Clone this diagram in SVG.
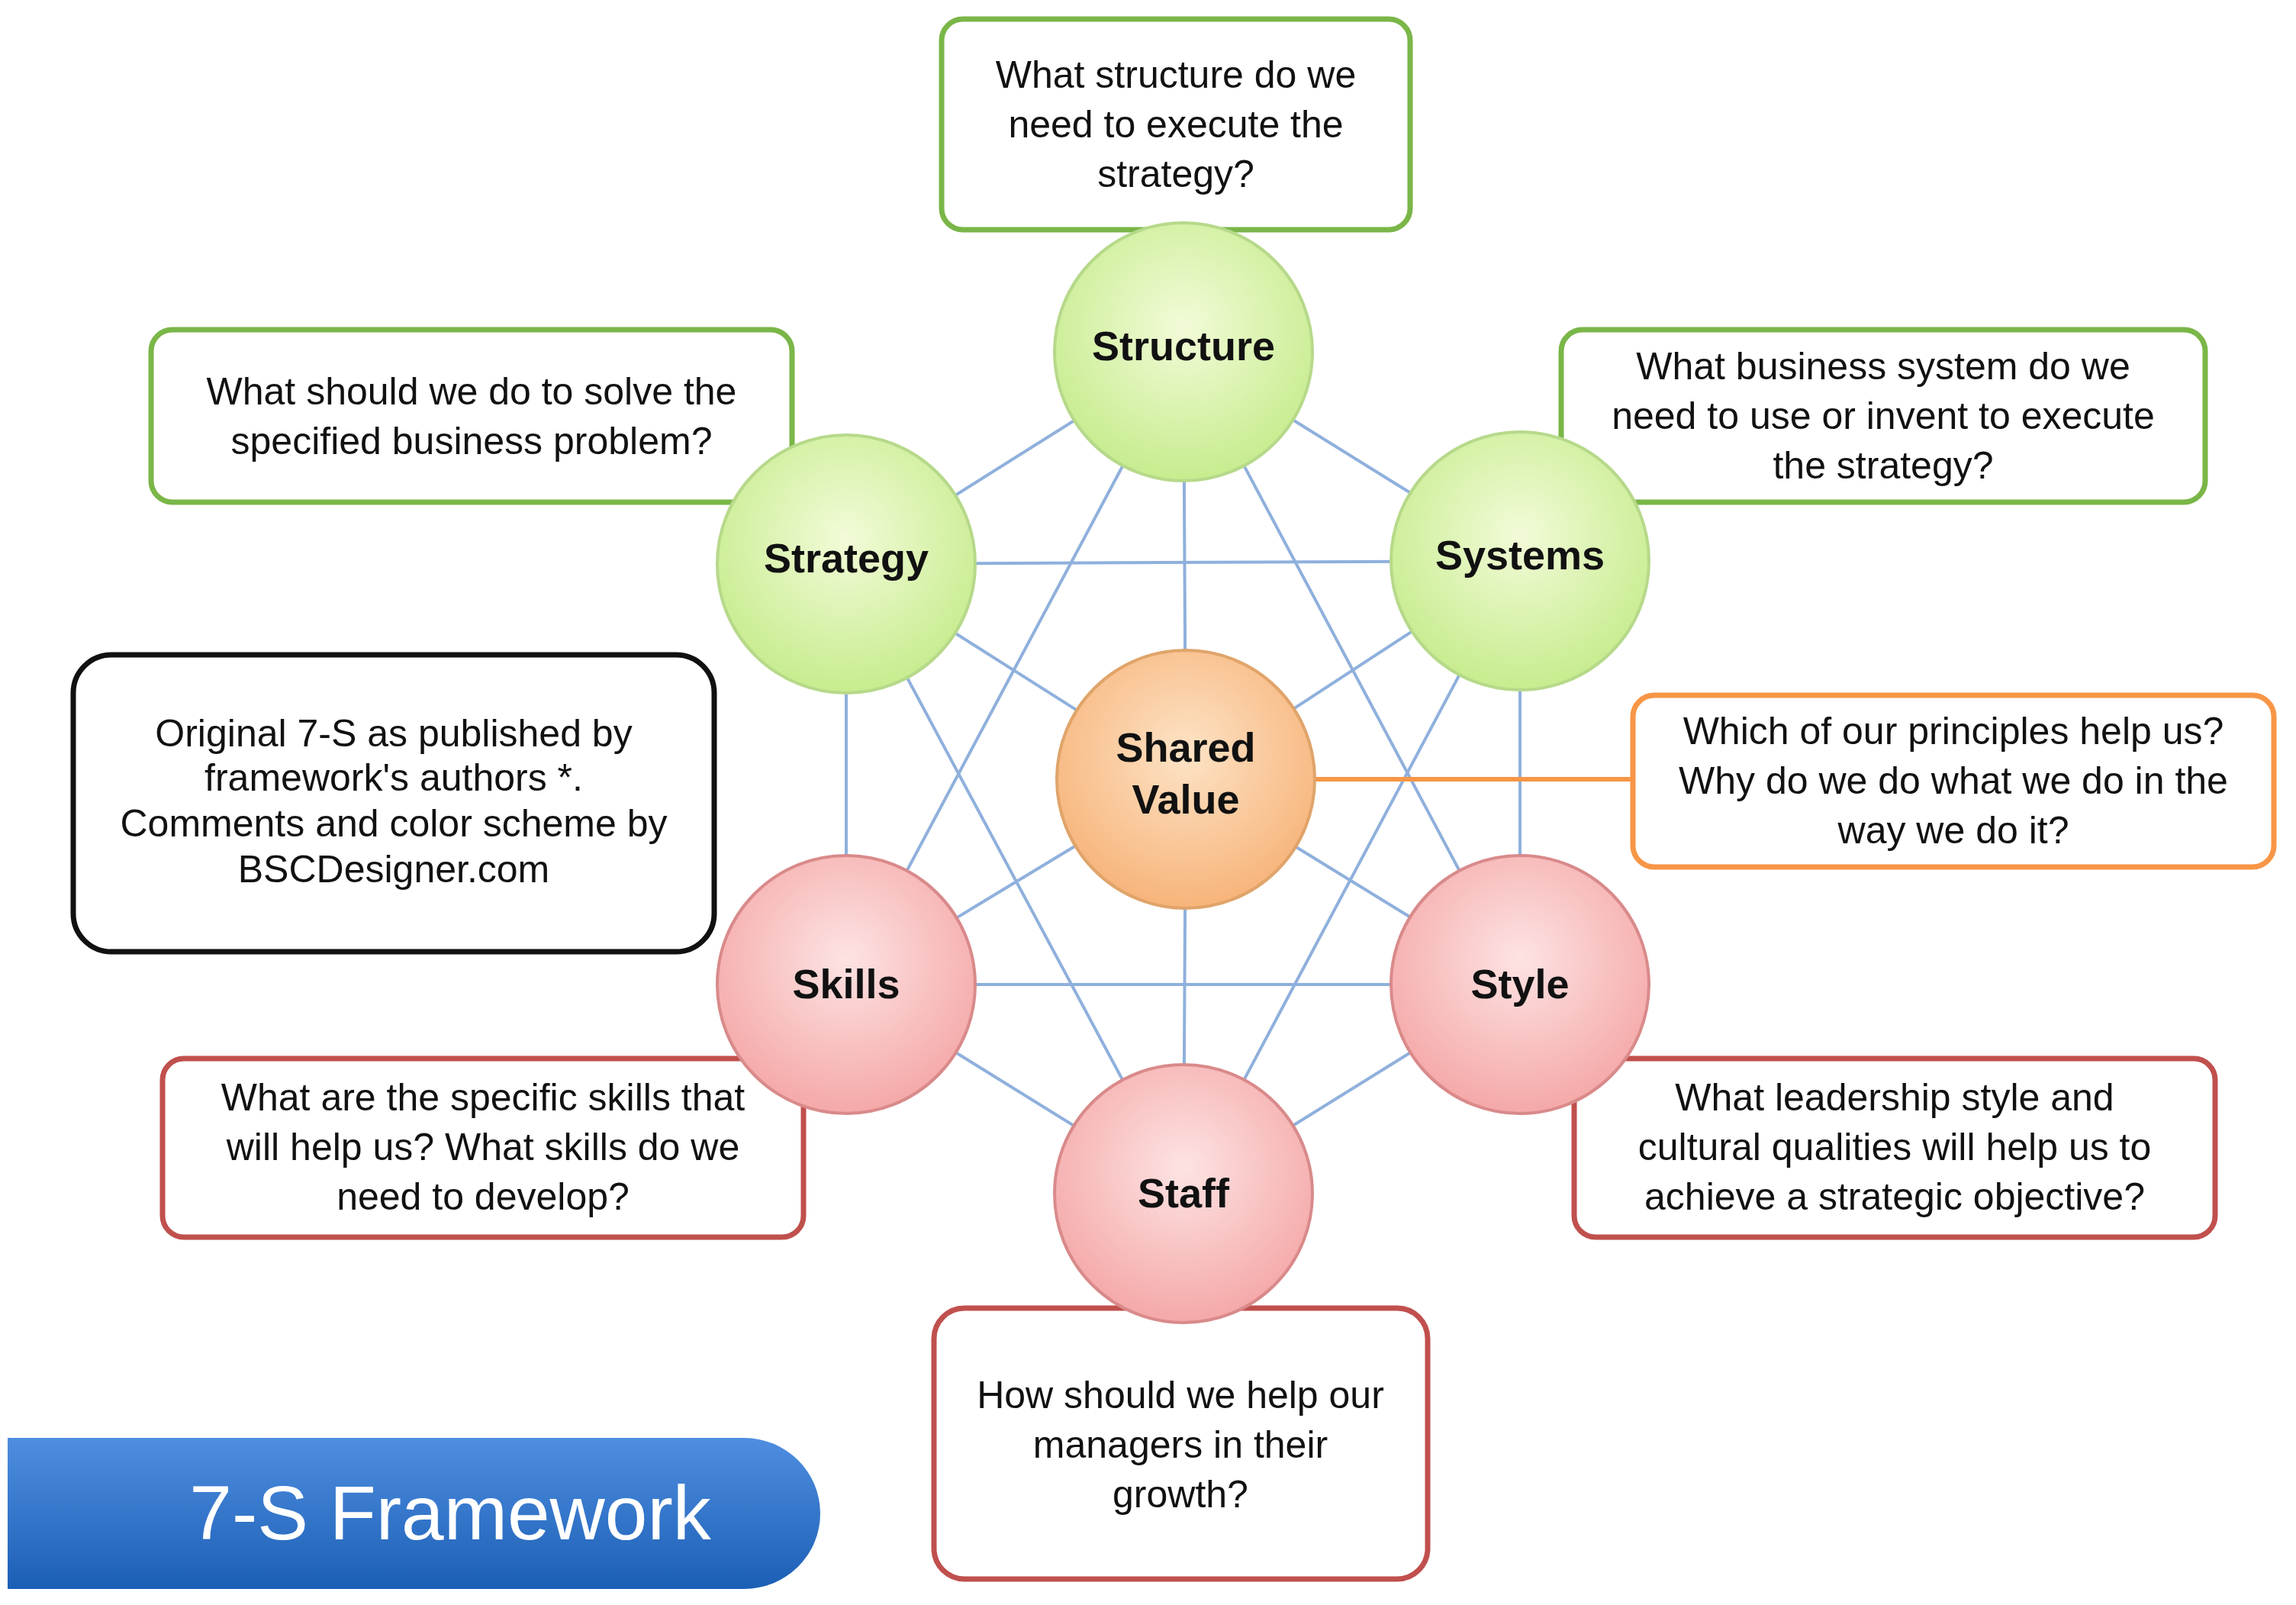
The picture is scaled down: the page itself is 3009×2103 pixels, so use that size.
<svg xmlns="http://www.w3.org/2000/svg" width="3009" height="2103" viewBox="0 0 3009 2103">
<defs>
<radialGradient id="gG" cx="50%" cy="40%" r="60%"><stop offset="0" stop-color="#f2fbd8"/><stop offset="1" stop-color="#c7ec8e"/></radialGradient>
<radialGradient id="gR" cx="50%" cy="40%" r="60%"><stop offset="0" stop-color="#fde3e3"/><stop offset="1" stop-color="#f5a8a8"/></radialGradient>
<radialGradient id="gO" cx="50%" cy="40%" r="60%"><stop offset="0" stop-color="#fde3c6"/><stop offset="1" stop-color="#f7b47a"/></radialGradient>
<linearGradient id="gB" x1="0" y1="0" x2="0" y2="1"><stop offset="0" stop-color="#4f8ee0"/><stop offset="1" stop-color="#1b5fb5"/></linearGradient>
</defs>
<style>
text{font-family:"Liberation Sans",Arial,sans-serif;text-anchor:middle;fill:#111}
.q{font-size:50px}
.n{font-size:54px;font-weight:bold}
.cg{fill:url(#gG);stroke:#b6d98a;stroke-width:4}
.cr{fill:url(#gR);stroke:#d98a8a;stroke-width:4}
.co{fill:url(#gO);stroke:#e0a46a;stroke-width:4}
.bg{fill:#fff;stroke:#7ab648;stroke-width:7}
.br{fill:#fff;stroke:#c0504d;stroke-width:7}
.bo{fill:#fff;stroke:#f79646;stroke-width:7}
.bk{fill:#fff;stroke:#111;stroke-width:7}
.l{stroke:#8fb0dc;stroke-width:4;fill:none}
</style>
<g id="connectors">
<line class="l" x1="1551" y1="461" x2="1109" y2="739"/>
<line class="l" x1="1551" y1="461" x2="1992" y2="735"/>
<line class="l" x1="1551" y1="461" x2="1554" y2="1021"/>
<line class="l" x1="1551" y1="461" x2="1109" y2="1290"/>
<line class="l" x1="1551" y1="461" x2="1992" y2="1290"/>
<line class="l" x1="1109" y1="739" x2="1992" y2="735"/>
<line class="l" x1="1109" y1="739" x2="1554" y2="1021"/>
<line class="l" x1="1109" y1="739" x2="1109" y2="1290"/>
<line class="l" x1="1109" y1="739" x2="1551" y2="1564"/>
<line class="l" x1="1992" y1="735" x2="1554" y2="1021"/>
<line class="l" x1="1992" y1="735" x2="1992" y2="1290"/>
<line class="l" x1="1992" y1="735" x2="1551" y2="1564"/>
<line class="l" x1="1554" y1="1021" x2="1109" y2="1290"/>
<line class="l" x1="1554" y1="1021" x2="1992" y2="1290"/>
<line class="l" x1="1554" y1="1021" x2="1551" y2="1564"/>
<line class="l" x1="1109" y1="1290" x2="1992" y2="1290"/>
<line class="l" x1="1109" y1="1290" x2="1551" y2="1564"/>
<line class="l" x1="1992" y1="1290" x2="1551" y2="1564"/>
<line x1="1720" y1="1021" x2="2140" y2="1021" stroke="#f79646" stroke-width="6"/>
</g>
<g id="q-structure"><rect class="bg" x="1234" y="25" width="614" height="276" rx="28"/>
<text class="q" x="1541" y="115">What structure do we</text><text class="q" x="1541" y="180">need to execute the</text><text class="q" x="1541" y="245">strategy?</text></g>
<g id="q-strategy"><rect class="bg" x="198" y="432" width="840" height="226" rx="28"/>
<text class="q" x="618" y="530">What should we do to solve the</text><text class="q" x="618" y="595">specified business problem?</text></g>
<g id="q-systems"><rect class="bg" x="2046" y="432" width="844" height="226" rx="28"/>
<text class="q" x="2468" y="497">What business system do we</text><text class="q" x="2468" y="562">need to use or invent to execute</text><text class="q" x="2468" y="627">the strategy?</text></g>
<g id="note"><rect class="bk" x="96" y="858" width="840" height="389" rx="50"/>
<text class="q" x="516" y="978">Original 7-S as published by</text><text class="q" x="516" y="1036">framework's authors *.</text><text class="q" x="516" y="1096">Comments and color scheme by</text><text class="q" x="516" y="1156">BSCDesigner.com</text></g>
<g id="q-shared"><rect class="bo" x="2140" y="911" width="840" height="225" rx="28"/>
<text class="q" x="2560" y="975">Which of our principles help us?</text><text class="q" x="2560" y="1040">Why do we do what we do in the</text><text class="q" x="2560" y="1105">way we do it?</text></g>
<g id="q-skills"><rect class="br" x="213" y="1387" width="840" height="234" rx="28"/>
<text class="q" x="633" y="1455">What are the specific skills that</text><text class="q" x="633" y="1520">will help us? What skills do we</text><text class="q" x="633" y="1585">need to develop?</text></g>
<g id="q-style"><rect class="br" x="2063" y="1387" width="840" height="234" rx="28"/>
<text class="q" x="2483" y="1455">What leadership style and</text><text class="q" x="2483" y="1520">cultural qualities will help us to</text><text class="q" x="2483" y="1585">achieve a strategic objective?</text></g>
<g id="q-staff"><rect class="br" x="1224" y="1714" width="647" height="355" rx="40"/>
<text class="q" x="1547" y="1845">How should we help our</text><text class="q" x="1547" y="1910">managers in their</text><text class="q" x="1547" y="1975">growth?</text></g>
<g id="structure"><circle class="cg" cx="1551" cy="461" r="169"/><text class="n" x="1551" y="472">Structure</text></g>
<g id="strategy"><circle class="cg" cx="1109" cy="739" r="169"/><text class="n" x="1109" y="750">Strategy</text></g>
<g id="systems"><circle class="cg" cx="1992" cy="735" r="169"/><text class="n" x="1992" y="746">Systems</text></g>
<g id="shared"><circle class="co" cx="1554" cy="1021" r="169"/><text class="n" x="1554" y="998">Shared</text><text class="n" x="1554" y="1066">Value</text></g>
<g id="skills"><circle class="cr" cx="1109" cy="1290" r="169"/><text class="n" x="1109" y="1308">Skills</text></g>
<g id="style"><circle class="cr" cx="1992" cy="1290" r="169"/><text class="n" x="1992" y="1308">Style</text></g>
<g id="staff"><circle class="cr" cx="1551" cy="1564" r="169"/><text class="n" x="1551" y="1582">Staff</text></g>
<g id="title"><path d="M10,1884 H975 A100,99 0 0 1 975,2082 H10 Z" fill="url(#gB)"/>
<text x="590" y="2017" style="font-size:100px;fill:#fff">7-S Framework</text></g>
</svg>
